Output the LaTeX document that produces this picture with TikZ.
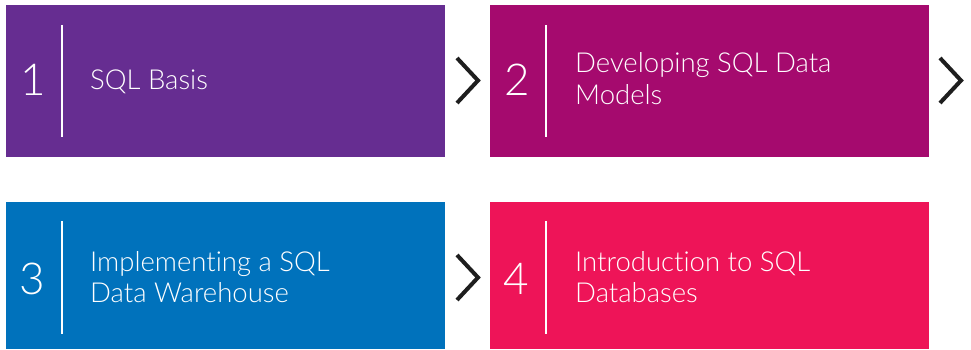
\documentclass[tikz,border=0pt]{standalone}
\usepackage{fontspec}
\setmainfont{Lato}[UprightFont=* Light,Ligatures=NoCommon]
\usetikzlibrary{calc}
\definecolor{cpurple}{RGB}{102,45,145}
\definecolor{cmagenta}{RGB}{165,10,110}
\definecolor{cblue}{RGB}{0,114,188}
\definecolor{cpink}{RGB}{238,20,88}
\definecolor{cchev}{RGB}{30,30,30}
\begin{document}
\begin{tikzpicture}[x=1pt,y=-1pt,
  box/.style={draw=none,anchor=north west,minimum width=439pt,inner sep=0pt,outer sep=0pt},
  numlbl/.style={text=white,font=\fontsize{44}{44}\selectfont,inner sep=0pt,anchor=base},
  txtlbl/.style={text=white,font=\fontsize{27.5}{31.5}\selectfont,align=left,inner sep=0pt,anchor=base west},
  divider/.style={draw=white,line width=2.5pt},
  chev/.style={draw=cchev,line width=4pt,line cap=butt,line join=miter}]
\useasboundingbox (0,0) rectangle (971,350);
\node[box,fill=cpurple,minimum height=152pt] (b1) at (6,5) {};
\node[box,fill=cmagenta,minimum height=152pt] (b2) at (490,5) {};
\node[box,fill=cblue,minimum height=147pt] (b3) at (6,202) {};
\node[box,fill=cpink,minimum height=147pt] (b4) at (490,202) {};
% dividers
\coordinate (d1t) at (62,25); \coordinate (d1b) at (62,137);
\coordinate (d2t) at (546,25); \coordinate (d2b) at (546,137);
\coordinate (d3t) at (62,221); \coordinate (d3b) at (62,334);
\coordinate (d4t) at (546,221); \coordinate (d4b) at (546,334);
\draw[divider] (d1t) -- (d1b);
\draw[divider] (d2t) -- (d2b);
\draw[divider] (d3t) -- (d3b);
\draw[divider] (d4t) -- (d4b);
% numbers
\node[numlbl] (n1) at (33,96) {1};
\node[numlbl] (n2) at (517,96) {2};
\node[numlbl] (n3) at (32,294) {3};
\node[numlbl] (n4) at (516,294) {4};
% texts
\node[txtlbl] (t1) at (90,90) {SQL Basis};
\node[txtlbl] (t2) at (575,104.5) {Developing SQL Data\\Models};
\node[txtlbl] (t3) at (90,302.5) {Implementing a SQL\\Data Warehouse};
\node[txtlbl] (t4) at (575,302.5) {Introduction to SQL\\Databases};
% chevrons
\coordinate (c1a) at (457,58); \coordinate (c1b) at (478,80.5); \coordinate (c1c) at (457,103);
\coordinate (c2a) at (940,58); \coordinate (c2b) at (961,80.5); \coordinate (c2c) at (940,103);
\coordinate (c3a) at (457,255); \coordinate (c3b) at (478,277.5); \coordinate (c3c) at (457,300);
\draw[chev] (c1a) -- (c1b) -- (c1c);
\draw[chev] (c2a) -- (c2b) -- (c2c);
\draw[chev] (c3a) -- (c3b) -- (c3c);
\end{tikzpicture}
\end{document}
